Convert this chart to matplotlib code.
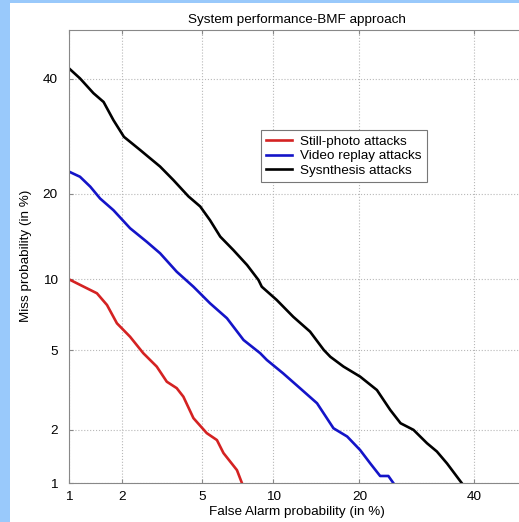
import numpy as np
import matplotlib
matplotlib.use("Agg")
import matplotlib.pyplot as plt
from matplotlib.patches import Rectangle
from matplotlib.ticker import FixedLocator, FixedFormatter
from statistics import NormalDist

# DET curves, values in % (false alarm, miss)
still_fa = [1.0, 1.22, 1.45, 1.65, 1.87, 2.20, 2.58, 3.02, 3.39, 3.79, 4.08, 4.55, 5.24, 5.82, 6.22, 7.11, 7.46]
still_miss = [10.0, 9.35, 8.80, 7.88, 6.59, 5.75, 4.84, 4.19, 3.54, 3.29, 2.98, 2.31, 1.92, 1.76, 1.49, 1.19, 1.0]

video_fa = [1.0, 1.16, 1.33, 1.51, 1.79, 2.20, 2.69, 3.14, 3.79, 4.55, 5.42, 6.44, 7.58, 8.87, 9.43,
            10.9, 12.6, 14.5, 16.5, 18.3, 20.1, 21.6, 23.1, 24.4, 25.2]
video_miss = [23.3, 22.5, 21.0, 19.3, 17.7, 15.4, 13.8, 12.55, 10.7, 9.35, 8.01, 6.93, 5.56, 4.84, 4.50,
              3.89, 3.29, 2.76, 2.04, 1.84, 1.55, 1.30, 1.10, 1.10, 1.0]

synth_fa = [1.0, 1.16, 1.385, 1.58, 1.79, 2.04, 2.49, 3.14, 3.65, 4.31, 4.89, 5.42, 6.02, 6.86, 7.84,
            8.73, 9.0, 10.3, 11.9, 13.7, 15.3, 16.1, 17.8, 20.1, 22.6, 24.7, 26.4, 28.6, 31.0, 32.8, 34.7, 37.5]
synth_miss = [42.1, 40.1, 37.2, 35.5, 32.1, 29.1, 26.8, 24.1, 22.0, 19.6, 18.2, 16.4, 14.4, 12.9, 11.35,
              9.94, 9.35, 8.27, 7.03, 6.06, 5.01, 4.66, 4.19, 3.75, 3.22, 2.55, 2.17, 2.0, 1.69, 1.52, 1.30, 1.0]

ticks = [1, 2, 5, 10, 20, 40]
tick_labels = ["1", "2", "5", "10", "20", "40"]

_nd = NormalDist()
_ppf = np.vectorize(_nd.inv_cdf, otypes=[float])
_cdf = np.vectorize(_nd.cdf, otypes=[float])


def probit(p):
    p = np.clip(np.asarray(p, dtype=float) / 100.0, 1e-9, 1 - 1e-9)
    return _ppf(p)


def unprobit(z):
    return 100.0 * _cdf(np.asarray(z, dtype=float))


plt.rcParams['font.family'] = ['Liberation Sans', 'DejaVu Sans']
plt.rcParams['font.size'] = 9.7

fig = plt.figure(figsize=(5.19, 5.22), dpi=100, facecolor='#99c9fb')
fig.patches.append(Rectangle((10 / 519, 0), 1, 1 - 3 / 522, transform=fig.transFigure,
                             facecolor='white', edgecolor='none', zorder=-5))

ax = fig.add_axes([69 / 519, 39 / 522, 455 / 519, 453.5 / 522])
ax.set_zorder(2)
ax.set_facecolor('white')
ax.set_xscale('function', functions=(probit, unprobit))
ax.set_yscale('function', functions=(probit, unprobit))
ax.set_xlim(1, 50)
ax.set_ylim(1, 50)

ax.plot(still_fa, still_miss, color='#d42222', lw=1.9, label='Still-photo attacks')
ax.plot(video_fa, video_miss, color='#1414c8', lw=1.9, label='Video replay attacks')
ax.plot(synth_fa, synth_miss, color='black', lw=1.9, label='Sysnthesis attacks')

for axis in (ax.xaxis, ax.yaxis):
    axis.set_major_locator(FixedLocator(ticks))
    axis.set_major_formatter(FixedFormatter(tick_labels))
ax.minorticks_off()
ax.tick_params(direction='in', top=True, right=True, length=3, color='#888888', pad=6)
ax.tick_params(axis='y', pad=8)
ax.grid(True, linestyle=':', color='#b8b8b8', lw=0.8)
for s in ax.spines.values():
    s.set_color('#888888')

ax.set_title('System performance-BMF approach', fontsize=9.7, pad=5)
ax.set_xlabel('False Alarm probability (in %)', labelpad=2)
ax.set_ylabel('Miss probability (in %)', labelpad=8)

leg = ax.legend(loc='upper left', bbox_to_anchor=(0.422, 0.778), borderaxespad=0,
                fancybox=False, framealpha=1, edgecolor='#777777', handlelength=1.9,
                borderpad=0.4, labelspacing=0.15, handletextpad=0.6)
leg.get_frame().set_linewidth(0.8)

fig.savefig('out.png', dpi=100, facecolor=fig.get_facecolor())
